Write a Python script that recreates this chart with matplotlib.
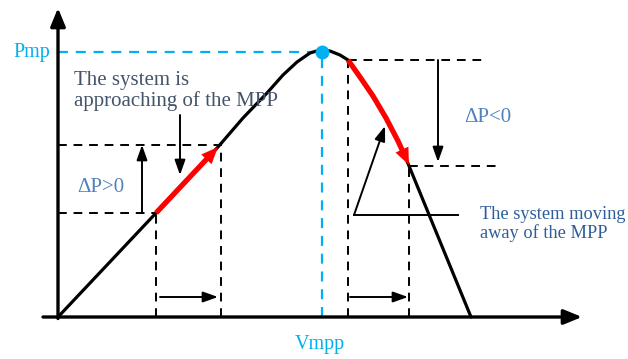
import matplotlib
matplotlib.use("Agg")
import matplotlib.pyplot as plt
import numpy as np

# P-V curve (arbitrary units, origin at axes crossing)
V = [0, 98, 160, 185, 209, 225, 239, 252, 262, 272, 282, 290, 302, 315, 328, 340, 349, 413]
P = [0, 104, 170, 199, 224, 242, 255, 264, 267, 266, 262, 257, 240, 221, 199, 176, 156, 0]

# red segments (approaching / moving away)
V_red1 = [98, 160]
P_red1 = [104, 170]
V_red2 = [290, 302, 315, 328, 340, 351]
P_red2 = [257, 240, 221, 199, 176, 152]

# maximum power point
Vmpp, Pmp = 264, 265

# operating points
V1, P1 = 98, 104
V2, P2 = 163, 172
V3, P3 = 290, 257
V4, P4 = 351, 151

ink = "black"
cyan = "#00B0F0"
dp_col = "#4F81BD"
txt1 = "#44546A"
txt2 = "#2E5E99"
serif = "Liberation Serif"

fig = plt.figure(figsize=(6.28, 3.59), dpi=100)
ax = fig.add_axes([0, 0, 1, 1])
ax.set_xlim(-58, 570)
ax.set_ylim(-42, 317)
ax.axis("off")

# axes with arrows
ax.annotate("", xy=(0, 309), xytext=(0, -1.5),
            arrowprops=dict(arrowstyle="-|>,head_length=1.1,head_width=0.45", lw=2.4, color=ink, shrinkA=0, shrinkB=0))
ax.annotate("", xy=(524, 0), xytext=(-15, 0),
            arrowprops=dict(arrowstyle="-|>,head_length=1.1,head_width=0.45", lw=2.4, color=ink, shrinkA=0, shrinkB=0))

dash = dict(color=ink, lw=1.4, dashes=(4.5, 3.5))
# dashed guides
ax.plot([0, V1], [P1, P1], **dash)
ax.plot([V1, V1], [0, P1], **dash)
ax.plot([0, V2], [P2, P2], **dash)
ax.plot([V2, V2], [0, P2], **dash)
ax.plot([V3, 425], [P3, P3], **dash)
ax.plot([V3, V3], [0, P3], **dash)
ax.plot([V4, 442], [P4, P4], **dash)
ax.plot([V4, V4], [0, P4], **dash)
ax.plot([0, Vmpp], [Pmp, Pmp], color=cyan, lw=1.6, dashes=(4.5, 3.5))
ax.plot([Vmpp, Vmpp], [0, Pmp], color=cyan, lw=1.6, dashes=(4.5, 3.5))

# curve
ax.plot(V, P, color=ink, lw=2.3, solid_capstyle="round", solid_joinstyle="round")

red_head = dict(arrowstyle="-|>,head_length=1.2,head_width=0.5", lw=0.1, color="red", shrinkA=0, shrinkB=0)
# red segment 1 (straight)
d1 = np.array([V_red1[1] - V_red1[0], P_red1[1] - P_red1[0]], float)
d1 /= np.hypot(*d1)
base1 = np.array([V_red1[1], P_red1[1]]) - 12 * d1
ax.plot([V_red1[0], base1[0]], [P_red1[0], base1[1]], color="red", lw=3.8, solid_capstyle="butt")
ax.annotate("", xy=(V_red1[1], P_red1[1]), xytext=tuple(base1), arrowprops=red_head)
# red segment 2 (curved)
d2 = np.array([V_red2[-1] - V_red2[-2], P_red2[-1] - P_red2[-2]], float)
d2 /= np.hypot(*d2)
base2 = np.array([V_red2[-1], P_red2[-1]]) - 13 * d2
ax.plot(V_red2[:-1] + [base2[0]], P_red2[:-1] + [base2[1]], color="red", lw=3.8,
        solid_capstyle="butt", solid_joinstyle="round")
ax.annotate("", xy=(V_red2[-1], P_red2[-1]), xytext=tuple(base2), arrowprops=red_head)

ax.plot([Vmpp], [Pmp], "o", color=cyan, ms=9, zorder=5)

# thin arrows
thin = dict(arrowstyle="-|>,head_length=0.9,head_width=0.32", lw=1.4, color=ink, shrinkA=0, shrinkB=0)
ax.annotate("", xy=(84, 172), xytext=(84, 104), arrowprops=thin)
ax.annotate("", xy=(122, 142), xytext=(122, 202), arrowprops=thin)
ax.annotate("", xy=(160, 20), xytext=(102, 20), arrowprops=thin)
ax.annotate("", xy=(350, 20), xytext=(292, 20), arrowprops=thin)
ax.annotate("", xy=(380, 155), xytext=(380, 257), arrowprops=thin)
ax.annotate("", xy=(327, 191), xytext=(296, 102), arrowprops=thin)
ax.plot([296, 400], [102, 102], color=ink, lw=1.4)

# texts
ax.text(-8, Pmp, "Pmp", color=cyan, fontsize=14.5, family=serif, ha="right", va="center")
ax.text(Vmpp - 2, -27, "Vmpp", color=cyan, fontsize=14.5, family=serif, ha="center", va="center")
ax.text(43, 129, "\u0394P>0", color=dp_col, fontsize=15, family=serif, ha="center", va="center")
ax.text(430, 199, "\u0394P<0", color=dp_col, fontsize=15, family=serif, ha="center", va="center")
ax.text(16, 226, "The system is\napproaching of the MPP", color=txt1, fontsize=15,
        family=serif, ha="left", va="center", linespacing=1.02)
ax.text(422, 93, "The system moving\naway of the MPP", color=txt2, fontsize=13.2,
        family=serif, ha="left", va="center", linespacing=1.1)

fig.savefig("out.png", dpi=100)
